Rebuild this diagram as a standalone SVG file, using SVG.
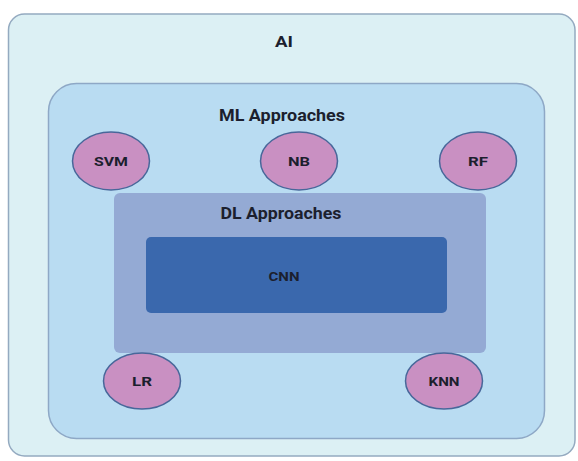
<svg xmlns="http://www.w3.org/2000/svg" width="578" height="461" viewBox="0 0 578 461">
<style>
text{font-family:Roboto,"Liberation Sans",sans-serif;font-weight:bold;fill:#1c1f2e;text-anchor:middle;dominant-baseline:central}
.t{font-size:16.5px}
.e{font-size:13px}
.ell{fill:#c990c2;stroke:#48679a;stroke-width:1.5}
</style>
<rect width="578" height="461" fill="#ffffff"/>
<g id="ai">
<rect x="8.5" y="14" width="566.5" height="442" rx="16" fill="#dcf0f4" stroke="#94aac0" stroke-width="1.5"/>
<text x="284" y="42" font-size="15" textLength="18" lengthAdjust="spacingAndGlyphs">AI</text>
</g>
<g id="ml">
<rect x="48.5" y="83.5" width="496" height="355" rx="28" fill="#b9dcf2" stroke="#8ea8c6" stroke-width="1.5"/>
<text class="t" x="282" y="115" textLength="126" lengthAdjust="spacingAndGlyphs">ML Approaches</text>
</g>
<g id="dl">
<rect x="114" y="193" width="372" height="160" rx="6" fill="#94aad4"/>
<text class="t" x="281" y="213" textLength="121" lengthAdjust="spacingAndGlyphs">DL Approaches</text>
</g>
<g id="cnn">
<rect x="146" y="237" width="301" height="76" rx="5" fill="#3a68ad"/>
<text class="e" x="284" y="276" textLength="31" lengthAdjust="spacingAndGlyphs">CNN</text>
</g>
<g id="svm"><ellipse class="ell" cx="111" cy="161" rx="38.5" ry="29"/><text class="e" x="111" y="161" textLength="34" lengthAdjust="spacingAndGlyphs">SVM</text></g>
<g id="nb"><ellipse class="ell" cx="299" cy="161" rx="38.5" ry="29"/><text class="e" x="299" y="161" textLength="22" lengthAdjust="spacingAndGlyphs">NB</text></g>
<g id="rf"><ellipse class="ell" cx="478" cy="161" rx="38.5" ry="29"/><text class="e" x="478" y="161" textLength="20" lengthAdjust="spacingAndGlyphs">RF</text></g>
<g id="lr"><ellipse class="ell" cx="142" cy="381" rx="38.5" ry="28"/><text class="e" x="142" y="381" textLength="20" lengthAdjust="spacingAndGlyphs">LR</text></g>
<g id="knn"><ellipse class="ell" cx="444" cy="381" rx="38.5" ry="28"/><text class="e" x="444" y="381" textLength="31" lengthAdjust="spacingAndGlyphs">KNN</text></g>
<g id="connectors"></g>
</svg>
